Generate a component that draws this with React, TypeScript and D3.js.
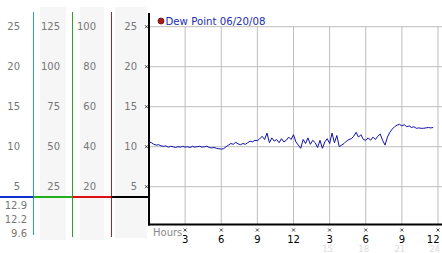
import React from "react";
import * as d3 from "d3";

const W = 442;
const H = 253;

// Dew point readings, sampled every 0.2 h starting at hour 0
const startHour = 0;
const stepHours = 0.2;
const dewPoint: number[] = [
  10.6, 10.5, 10.3, 10.2, 10.25, 10.1,
  10.05, 10.1, 9.95, 10.05, 10.0, 9.9, 10.0, 9.95, 10.05, 9.95,
  10.0, 9.9, 10.05, 9.95, 10.0, 10.05, 9.95, 10.0, 10.05, 9.9,
  9.85, 9.9, 9.8, 9.75, 9.7, 9.75,
  10.0, 10.2, 10.4, 10.3, 10.55, 10.35, 10.25, 10.4, 10.3,
  10.5, 10.7, 10.6, 10.8, 10.75, 11.0, 11.3, 10.9, 11.7, 10.5,
  11.1, 10.7, 10.9, 10.5, 11.0, 10.6, 10.8, 11.2, 10.9, 11.5,
  10.6, 10.2, 9.8, 10.9, 10.4, 11.1, 10.3, 10.8, 10.5, 9.9,
  10.8, 9.8, 10.6, 11.0, 10.4, 11.7, 10.5, 11.4, 10.0, 10.2,
  10.4, 10.7, 10.9, 11.0, 11.3, 11.8, 11.2, 11.5, 10.9, 10.8,
  11.1, 10.8, 11.2, 10.9, 11.3, 11.6, 10.8, 10.2, 11.2, 11.8,
  12.2, 12.5, 12.7, 12.8, 12.6, 12.75, 12.5, 12.6, 12.4, 12.5,
  12.3, 12.35, 12.3, 12.3, 12.35, 12.4, 12.35, 12.4,
];

const yTicks = [25, 20, 15, 10, 5];
const col2Labels = ["125", "100", "75", "50", "25"];
const col3Labels = ["100", "80", "60", "40", "20"];
const hourTicks = [3, 6, 9, 12, 15, 18, 21, 24];
const hourLabels = ["3", "6", "9", "12", "3", "6", "9", "12"];
const hourFaint = ["", "", "", "", "15", "18", "21", "24"];
const currentLabels = ["12.9", "12.2", "9.6"];
const legendText = "Dew Point 06/20/08";

const FONT = "'DejaVu Sans', Verdana, sans-serif";

function Cross({ x, y }: { x: number; y: number }) {
  return (
    <g stroke="#222" strokeWidth={0.8}>
      <line x1={x - 1.5} y1={y - 1.5} x2={x + 1.5} y2={y + 1.5} />
      <line x1={x - 1.5} y1={y + 1.5} x2={x + 1.5} y2={y - 1.5} />
    </g>
  );
}

export default function App() {
  const x = d3.scaleLinear().domain([0, 24]).range([149, 438]);
  const y = d3.scaleLinear().domain([0, 25]).range([226.7, 26.7]);
  const axisY = 224.5;
  const sepY = 197;

  const pts = dewPoint.map((v, i) => [startHour + i * stepHours, v] as [number, number]);
  const line = d3
    .line<[number, number]>()
    .x((d) => x(d[0]))
    .y((d) => y(d[1]));

  return (
    <svg
      width={W}
      height={H}
      style={{ position: "absolute", left: 0, top: 0, background: "#fff" }}
      fontFamily={FONT}
    >
      <rect x={0} y={0} width={W} height={H} fill="#fff" />
      {/* gray columns */}
      <rect x={40} y={7} width={26} height={233} fill="#f6f6f6" />
      <rect x={80} y={7} width={24} height={233} fill="#f6f6f6" />
      <rect x={115} y={7} width={32} height={231} fill="#f6f6f6" />

      {/* grid */}
      {yTicks.map((t) => (
        <line key={"h" + t} x1={149} x2={W} y1={y(t)} y2={y(t)} stroke="#bdbdbd" strokeWidth={1} />
      ))}
      {hourTicks.map((t) => (
        <line key={"v" + t} x1={x(t)} x2={x(t)} y1={y(25)} y2={axisY} stroke="#bdbdbd" strokeWidth={1} />
      ))}

      {/* left scale labels */}
      {yTicks.map((t, i) => (
        <g key={"l" + t} fontSize={10} fill="#777" dominantBaseline="central" textAnchor="end">
          <text x={20} y={y(t)}>{t}</text>
          <text x={60} y={y(t)}>{col2Labels[i]}</text>
          <text x={96} y={y(t)}>{col3Labels[i]}</text>
          <text x={137} y={y(t)}>{t}</text>
        </g>
      ))}

      {/* colored vertical lines */}
      <line x1={33.5} x2={33.5} y1={12} y2={235} stroke="#2aa0c8" strokeWidth={1} />
      <line x1={72.5} x2={72.5} y1={12} y2={237} stroke="#2ea02e" strokeWidth={1} />
      <line x1={111.5} x2={111.5} y1={12} y2={237} stroke="#b02020" strokeWidth={1} />

      {/* separator */}
      <line x1={0} x2={33.5} y1={sepY} y2={sepY} stroke="#1030d0" strokeWidth={2} />
      <line x1={33.5} x2={72.5} y1={sepY} y2={sepY} stroke="#20b020" strokeWidth={2} />
      <line x1={72.5} x2={111.5} y1={sepY} y2={sepY} stroke="#e01010" strokeWidth={2} />
      <line x1={111.5} x2={149} y1={sepY} y2={sepY} stroke="#000" strokeWidth={2} />

      {/* current values */}
      {currentLabels.map((c, i) => (
        <text key={c} x={27} y={205 + i * 14} fontSize={10} fill="#777" textAnchor="end" dominantBaseline="central">
          {c}
        </text>
      ))}

      {/* axes */}
      <line x1={149} x2={149} y1={13} y2={axisY + 1} stroke="#000" strokeWidth={2} />
      <line x1={148} x2={W} y1={axisY} y2={axisY} stroke="#000" strokeWidth={2} />
      {yTicks.map((t) => (
        <Cross key={"yc" + t} x={146.5} y={y(t)} />
      ))}

      {/* x labels */}
      <text x={153} y={232} fontSize={10} fill="#888" dominantBaseline="central">Hours</text>
      {hourTicks.map((t, i) => {
        const last = i === hourTicks.length - 1;
        return (
          <g key={"xl" + t}>
            <Cross x={x(t)} y={230} />
            <text
              x={last ? x(t) + 1.5 : x(t)}
              y={239}
              fontSize={10}
              fill="#000"
              textAnchor={last ? "end" : "middle"}
              dominantBaseline="central"
            >
              {hourLabels[i]}
            </text>
            {hourFaint[i] && (
              <text
                x={last ? x(t) + 2 : x(t) - 2}
                y={248.5}
                fontSize={8.5}
                fill="#dcdcdc"
                textAnchor={last ? "end" : "middle"}
                dominantBaseline="central"
              >
                {hourFaint[i]}
              </text>
            )}
          </g>
        );
      })}

      {/* data line */}
      <path d={line(pts) || ""} fill="none" stroke="#1010b0" strokeWidth={1} />

      {/* legend */}
      <circle cx={161} cy={21} r={3} fill="#b01818" stroke="#601010" strokeWidth={0.8} />
      <text x={165.5} y={21} fontSize={10.2} fill="#1a2db0" dominantBaseline="central">
        {legendText}
      </text>
    </svg>
  );
}
